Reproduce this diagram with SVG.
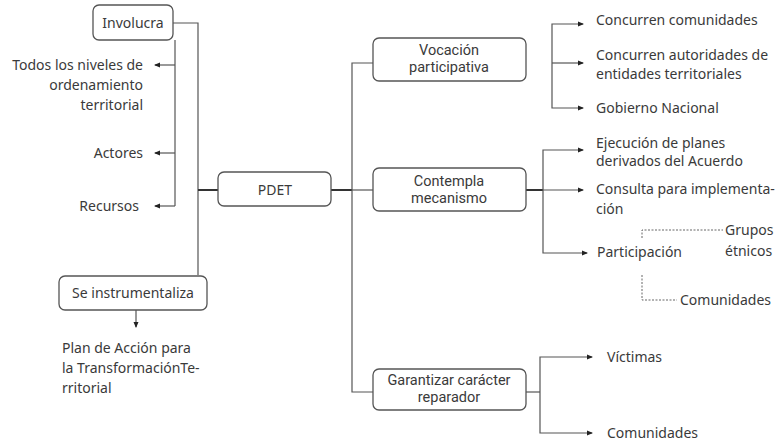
<svg xmlns="http://www.w3.org/2000/svg" width="784" height="446" viewBox="0 0 784 446">
<style>
text{font-family:"Noto Sans","Open Sans",sans-serif;font-size:14px;fill:#3a3a3a}
text.b{font-family:Roboto,"Noto Sans",sans-serif;font-size:14.5px;text-anchor:middle}
.box{fill:#fff;stroke:#555;stroke-width:1.3}
.ln{fill:none;stroke:#555;stroke-width:1.2}
.thick{fill:none;stroke:#333;stroke-width:2}
.dot{fill:none;stroke:#666;stroke-width:1;stroke-dasharray:2 1.5}
.m{text-anchor:middle}
.e{text-anchor:end}
</style>
<defs>
<marker id="ar" viewBox="0 0 6 6" refX="5" refY="3" markerWidth="6" markerHeight="6" orient="auto-start-reverse" markerUnits="userSpaceOnUse">
<path d="M0,0.5 L6,3 L0,5.5 z" fill="#222"/>
</marker>
</defs>
<g id="connectors">
<path class="ln" d="M173,23 H198 V275"/>
<path class="ln" d="M175,40 V206"/>
<path class="ln" d="M175,65 H155" marker-end="url(#ar)"/>
<path class="ln" d="M175,153 H155" marker-end="url(#ar)"/>
<path class="ln" d="M175,206 H155" marker-end="url(#ar)"/>
<path class="thick" d="M198,190 H218"/>
<path class="thick" d="M331,190 H352"/>
<path class="ln" d="M352,190 H373"/>
<path class="ln" d="M373,63 H352 V392 H373"/>
<path class="ln" d="M136,310 V327" marker-end="url(#ar)"/>
<path class="ln" d="M583,24 H552 V108 H583" marker-start="url(#ar)" marker-end="url(#ar)"/>
<path class="ln" d="M552,63 H583" marker-end="url(#ar)"/>
<path class="thick" d="M526,190 H543"/>
<path class="ln" d="M583,150 H543 V253 H587" marker-start="url(#ar)" marker-end="url(#ar)"/>
<path class="ln" d="M543,190 H583" marker-end="url(#ar)"/>
<path class="dot" d="M642,238 V230 H723"/>
<path class="dot" d="M642,275 V300 H677"/>
<path class="ln" d="M526,392 H540"/>
<path class="ln" d="M592,357 H540 V433 H592" marker-start="url(#ar)" marker-end="url(#ar)"/>
</g>
<g id="involucra"><rect class="box" x="93" y="5" width="80" height="35" rx="6"/><text class="m" x="133" y="28">Involucra</text></g>
<g id="niveles"><text class="e" x="143" y="70">Todos los niveles de</text><text class="e" x="143" y="90">ordenamiento</text><text class="e" x="143" y="110">territorial</text></g>
<g id="actores"><text class="e" x="143" y="158">Actores</text></g>
<g id="recursos"><text class="e" x="139" y="211">Recursos</text></g>
<g id="pdet"><rect class="box" x="218" y="172" width="113" height="34" rx="6"/><text class="m" x="275" y="195">PDET</text></g>
<g id="instrumentaliza"><rect class="box" x="59" y="276" width="148" height="34" rx="6"/><text class="m" x="133" y="298">Se instrumentaliza</text></g>
<g id="plan"><text x="62" y="353">Plan de Acción para</text><text x="62" y="373">la TransformaciónTe-</text><text x="62" y="393">rritorial</text></g>
<g id="vocacion"><rect class="box" x="373" y="38" width="153" height="43" rx="6"/><text class="b" x="449" y="55">Vocación</text><text class="b" x="449" y="72">participativa</text></g>
<g id="contempla"><rect class="box" x="373" y="168" width="153" height="43" rx="6"/><text class="b" x="449" y="186">Contempla</text><text class="b" x="449" y="203">mecanismo</text></g>
<g id="garantizar"><rect class="box" x="373" y="369" width="153" height="41" rx="6"/><text class="b" x="449" y="385">Garantizar carácter</text><text class="b" x="449" y="402">reparador</text></g>
<g id="concurren-com"><text x="596" y="25">Concurren comunidades</text></g>
<g id="concurren-aut"><text x="596" y="60">Concurren autoridades de</text><text x="596" y="79">entidades territoriales</text></g>
<g id="gobierno"><text x="596" y="113">Gobierno Nacional</text></g>
<g id="ejecucion"><text x="596" y="148">Ejecución de planes</text><text x="596" y="166">derivados del Acuerdo</text></g>
<g id="consulta"><text x="596" y="194">Consulta para implementa-</text><text x="596" y="214">ción</text></g>
<g id="participacion"><text x="597" y="257">Participación</text></g>
<g id="grupos"><text x="725" y="235">Grupos</text><text x="725" y="256">étnicos</text></g>
<g id="comunidades1"><text x="680" y="305">Comunidades</text></g>
<g id="victimas"><text x="607" y="362">Víctimas</text></g>
<g id="comunidades2"><text x="607" y="438">Comunidades</text></g>
</svg>
